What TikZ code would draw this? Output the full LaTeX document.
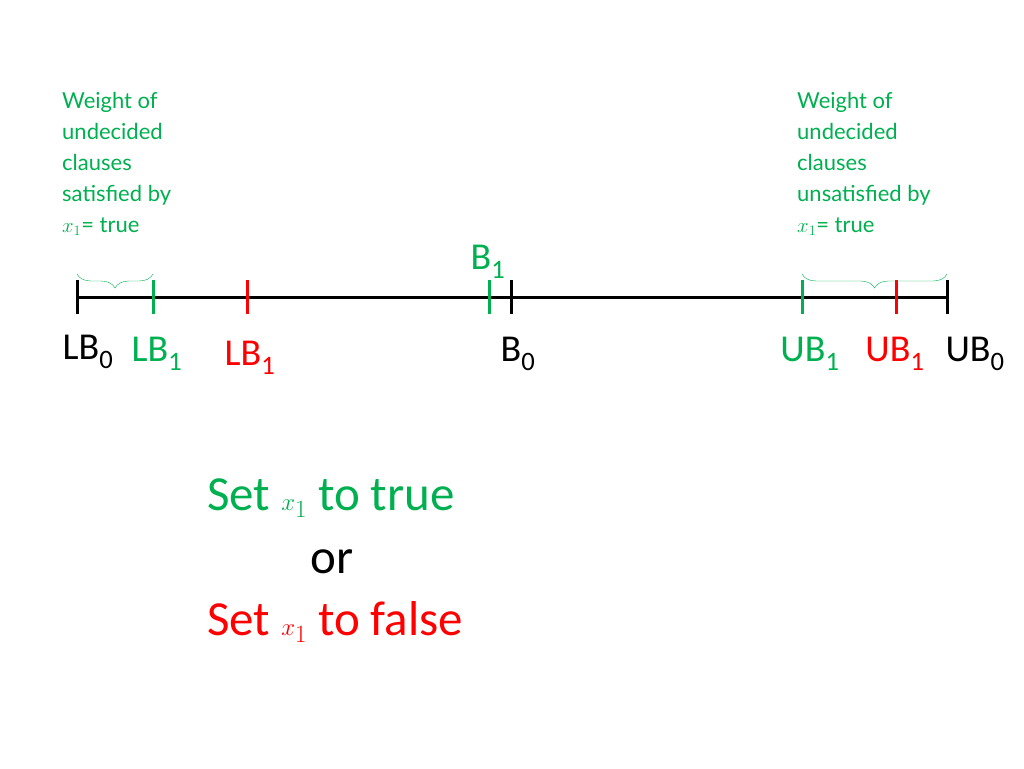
\documentclass[tikz,border=0pt]{standalone}
\usepackage{fontspec}
\setmainfont{Carlito}
\newfontfamily\notefont{Lato}
\usepackage{amsmath}
\usetikzlibrary{decorations.pathreplacing}
\definecolor{okgreen}{RGB}{0,176,80}
\definecolor{nored}{RGB}{255,0,0}

\begin{document}
\begin{tikzpicture}[x=1pt,y=-1pt,
  tick/.style={line width=3pt},
  lbl/.style={font=\fontsize{38}{40}\selectfont, inner sep=0pt},
  note/.style={font=\notefont\fontsize{22}{31}\selectfont, align=left, text=okgreen, anchor=north west, inner sep=0pt},
  big/.style={font=\fontsize{49}{52}\selectfont, anchor=west, inner sep=0pt}]

	\useasboundingbox (0,0) rectangle (1024,768);

	% the number line
	\coordinate (lbzero) at (77,297);
	\coordinate (ubzero) at (947,297);
	\draw[line width=3pt] (lbzero) -- (ubzero);

	% ticks
	\foreach \x/\c in {77/black, 511/black, 947/black, 153/okgreen, 489/okgreen, 802/okgreen, 247/nored, 896/nored}
		\draw[tick, \c] (\x,280) -- (\x,314);

	% labels
	\node[lbl] (LBz) at (88,352) {LB\textsubscript{0}};
	\node[lbl, okgreen] (LBg) at (157,354) {LB\textsubscript{1}};
	\node[lbl, nored] (LBr) at (250,358) {LB\textsubscript{1}};
	\node[lbl] (Bz) at (518,354) {B\textsubscript{0}};
	\node[lbl, okgreen] (Bg) at (488,262) {B\textsubscript{1}};
	\node[lbl, okgreen] (UBg) at (810,354) {UB\textsubscript{1}};
	\node[lbl, nored] (UBr) at (895,354) {UB\textsubscript{1}};
	\node[lbl] (UBz) at (975,354) {UB\textsubscript{0}};

	% braces
	\draw[okgreen, thin, decorate, decoration={brace, amplitude=14pt, mirror}] (77,274) -- (153,274);
	\draw[okgreen, thin, decorate, decoration={brace, amplitude=14pt, mirror}] (802,274) -- (947,274);

	% notes
	\node[note] (satnote) at (62,92) {Weight of\\undecided\\clauses\\satisfied by\\$x_1$= true};
	\node[note] (unsatnote) at (797,92) {Weight of\\undecided\\clauses\\unsatisfied by\\$x_1$= true};

	% choice
	\node[big, okgreen] (settrue) at (207,498) {Set $x_1$ to true};
	\node[big] (or) at (310,562) {or};
	\node[big, nored] (setfalse) at (207,622) {Set $x_1$ to false};

\end{tikzpicture}
\end{document}
